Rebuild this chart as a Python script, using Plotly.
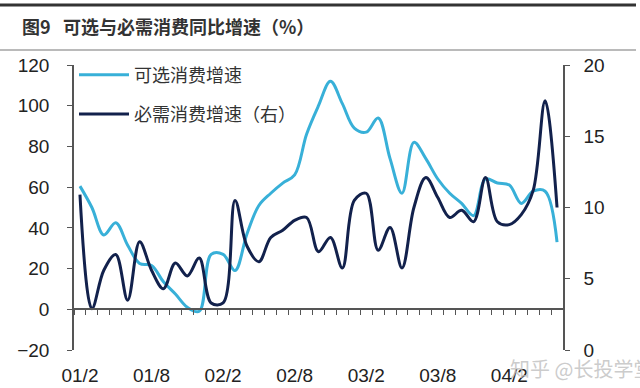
import plotly.graph_objects as go

# ---- data ----
categories = ([f"01/{m}" for m in range(2, 13)] + [f"02/{m}" for m in range(1, 13)]
              + [f"03/{m}" for m in range(1, 13)] + [f"04/{m}" for m in range(1, 7)])
tick_labels = ["01/2", "01/8", "02/2", "02/8", "03/2", "03/8", "04/2"]

discretionary = [60.5, 50, 36.5, 42.5, 31.5, 22.5, 21.5, 13.5, 7.5, 1, -1, 27, 27, 19, 37,
                 51, 57, 62, 66, 86, 100, 112, 101, 89, 87, 94, 74, 57, 82, 74, 64, 57, 52,
                 46, 64, 62, 61, 52, 58, 58, 33]
necessities = [10.9, 2.9, 5.6, 6.7, 3.5, 7.6, 5.6, 4.3, 6.1, 5.2, 6.45, 3.3, 3.3, 10.5, 7.3,
               6.2, 7.9, 8.4, 9.1, 9.3, 6.9, 7.9, 5.75, 10.5, 11.0, 7.0, 8.6, 5.75, 10.0, 12.1,
               10.7, 9.3, 9.8, 9.0, 12.1, 9.0, 8.8, 9.5, 11.2, 17.5, 10.0]

name_disc = "可选消费增速"
name_nec = "必需消费增速（右）"
title_text = "<b>图9   可选与必需消费同比增速（%）</b>"

x_idx = list(range(len(categories)))
tickvals = [categories.index(t) for t in tick_labels]

LIGHT = "#38B0D8"
DARK = "#12214C"
AXIS = "#555555"
TICKFONT = dict(family="Liberation Sans, Arial", size=19, color="#222222")

fig = go.Figure()
fig.add_trace(go.Scatter(x=x_idx, y=discretionary, name=name_disc, mode="lines",
                         line=dict(color=LIGHT, width=3, shape="spline", smoothing=1.0),
                         legendgroup="a", yaxis="y"))
fig.add_trace(go.Scatter(x=x_idx, y=necessities, name=name_nec, mode="lines",
                         line=dict(color=DARK, width=3, shape="spline", smoothing=1.0),
                         legendgroup="b", yaxis="y2"))
# carrier trace for the zero-line category axis
fig.add_trace(go.Scatter(x=[0], y=[None], xaxis="x2", yaxis="y", showlegend=False,
                         hoverinfo="skip", mode="lines"))

n = len(categories)
fig.update_layout(
    width=640, height=388,
    margin=dict(l=74, r=77, t=65, b=38, autoexpand=False),
    paper_bgcolor="white", plot_bgcolor="white",
    showlegend=True,
    legend=dict(x=0.0, y=1.03, xanchor="left", yanchor="top", itemwidth=50,
                font=dict(family="Noto Sans CJK SC", size=18, color="#333333"),
                bgcolor="rgba(0,0,0,0)", traceorder="grouped", tracegroupgap=13),
    title=dict(text=title_text, x=22 / 640, xanchor="left", xref="container",
               y=1 - 28 / 388, yanchor="middle", yref="container",
               font=dict(family="Noto Sans CJK SC", size=18, color="#333333")),
    xaxis=dict(range=[-0.5, n - 0.5], tickvals=tickvals, ticktext=tick_labels,
               showline=False, showgrid=False, zeroline=False, ticks="outside",
               ticklen=0, tickfont=TICKFONT, ticklabelstandoff=8, automargin=False),
    xaxis2=dict(range=[-0.5, n - 0.5], overlaying="x", anchor="free",
                position=20 / 140, side="bottom",
                tickvals=[k - 0.5 for k in range(n + 1)], ticks="outside", ticklen=5,
                tickcolor=AXIS, tickwidth=1.3, showticklabels=False, showline=True,
                linecolor=AXIS, linewidth=1.5, showgrid=False, zeroline=False,
                automargin=False),
    yaxis=dict(range=[-20, 120], dtick=20, showline=True, linecolor=AXIS, linewidth=1.5,
               ticks="outside", ticklen=5, tickcolor=AXIS, showgrid=False, zeroline=False,
               tickfont=TICKFONT, ticklabelstandoff=14, automargin=False),
    yaxis2=dict(range=[0, 20], dtick=5, overlaying="y", side="right", showline=True,
                linecolor=AXIS, linewidth=1.5, ticks="outside", ticklen=5, tickcolor=AXIS,
                showgrid=False, zeroline=False, tickfont=TICKFONT, ticklabelstandoff=10,
                automargin=False),
    shapes=[
        dict(type="line", xref="paper", yref="paper", x0=-74 / 489, x1=(636 - 74) / 489,
             y0=(350 - 5) / 285, y1=(350 - 5) / 285, line=dict(color="#333333", width=3)),
        dict(type="line", xref="paper", yref="paper", x0=-74 / 489, x1=(636 - 74) / 489,
             y0=(350 - 50) / 285, y1=(350 - 50) / 285, line=dict(color="#777777", width=1.2)),
    ],
    annotations=[
        dict(text="知乎 @长投学堂", xref="paper", yref="paper", x=(508 - 74) / 489,
             y=(350 - 368) / 285, xanchor="left", yanchor="middle", showarrow=False,
             font=dict(family="Noto Sans CJK SC", size=20, color="rgba(190,190,190,0.8)")),
    ],
)

fig.write_html("out.html", config={"displayModeBar": False},
               post_script="document.body.style.margin='0px';")
